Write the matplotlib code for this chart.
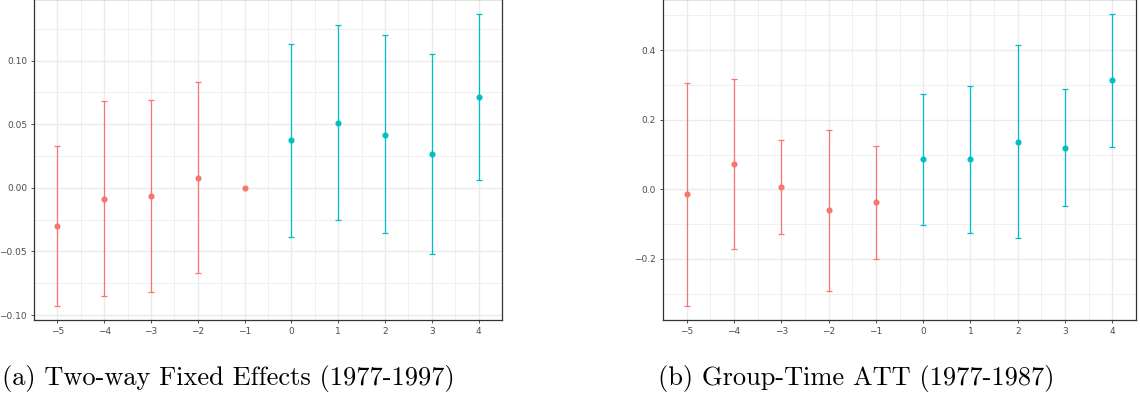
import numpy as np
import matplotlib
matplotlib.use("Agg")
import matplotlib.pyplot as plt
from matplotlib.ticker import MultipleLocator

# event time
e = np.arange(-5, 5)

# (a) two-way fixed effects
twfe_est = [-0.0301, -0.0089, -0.0063, 0.0081, 0.0, 0.0373, 0.0512, 0.0418, 0.0266, 0.0713]
twfe_lo = [-0.0928, -0.0854, -0.0815, -0.0672, np.nan, -0.0387, -0.0251, -0.0358, -0.0520, 0.0065]
twfe_hi = [0.0326, 0.0682, 0.0692, 0.0836, np.nan, 0.1131, 0.1277, 0.1199, 0.1052, 0.1370]

# (b) group-time ATT
att_est = [-0.0144, 0.0736, 0.0066, -0.0603, -0.0374, 0.0862, 0.0862, 0.1368, 0.1195, 0.3132]
att_lo = [-0.3345, -0.1707, -0.1284, -0.2922, -0.2003, -0.1026, -0.1245, -0.1399, -0.0489, 0.1216]
att_hi = [0.3055, 0.3178, 0.1417, 0.1704, 0.1253, 0.2739, 0.2979, 0.4138, 0.2882, 0.5046]

captions = ["(a) Two-way Fixed Effects (1977-1997)", "(b) Group-Time ATT (1977-1987)"]

RED, TEAL = "#F8766D", "#00BFC4"

fig = plt.figure(figsize=(11.4, 4), dpi=100)
axA = fig.add_axes([34/1140, 0.2, 468/1140, 0.8025])
axB = fig.add_axes([663/1140, 0.2, 473/1140, 0.8025])


def draw(ax, est, lo, hi, ylim, major):
    est, lo, hi = map(np.asarray, (est, lo, hi))
    for pre, col in [(e < 0, RED), (e >= 0, TEAL)]:
        ok = pre & ~np.isnan(lo)
        ax.errorbar(e[ok], est[ok], yerr=[est[ok] - lo[ok], hi[ok] - est[ok]],
                    fmt="none", ecolor=col, elinewidth=0.9, capsize=2, capthick=0.9, zorder=3)
        ax.plot(e[pre], est[pre], "o", color=col, ms=3.4, zorder=4)
    ax.set_xlim(-5.5, 4.5)
    ax.set_ylim(*ylim)
    ax.set_xticks(e)
    ax.xaxis.set_minor_locator(MultipleLocator(0.5))
    ax.yaxis.set_major_locator(MultipleLocator(major))
    ax.yaxis.set_minor_locator(MultipleLocator(major / 2))
    ax.set_xticklabels([str(v).replace("-", "\u2212") for v in e])
    ax.grid(which="major", color="#EBEBEB", lw=1.0, zorder=0)
    ax.grid(which="minor", color="#F0F0F0", lw=0.7, zorder=0)
    ax.set_axisbelow(True)
    for s in ax.spines.values():
        s.set_color("#333333")
        s.set_linewidth(0.9)
    ax.tick_params(which="major", length=2.5, width=0.6, color="#333333",
                   labelsize=6.5, labelcolor="#4D4D4D", pad=2.5)
    ax.tick_params(which="minor", length=0)


draw(axA, twfe_est, twfe_lo, twfe_hi, (-0.1039, 0.1485), 0.05)
axA.yaxis.set_major_formatter(plt.FuncFormatter(lambda v, p: f"{v:.2f}".replace("-", "\u2212")))
draw(axB, att_est, att_lo, att_hi, (-0.3756, 0.547), 0.2)
axB.yaxis.set_major_formatter(plt.FuncFormatter(lambda v, p: f"{v:.1f}".replace("-", "\u2212")))

fig.text(228/1140, 1 - 378/400, captions[0], ha="center", va="center",
         fontsize=19, family="cmr10")
fig.text(856/1140, 1 - 378/400, captions[1], ha="center", va="center",
         fontsize=19, family="cmr10")

fig.savefig("out.png", dpi=100)
